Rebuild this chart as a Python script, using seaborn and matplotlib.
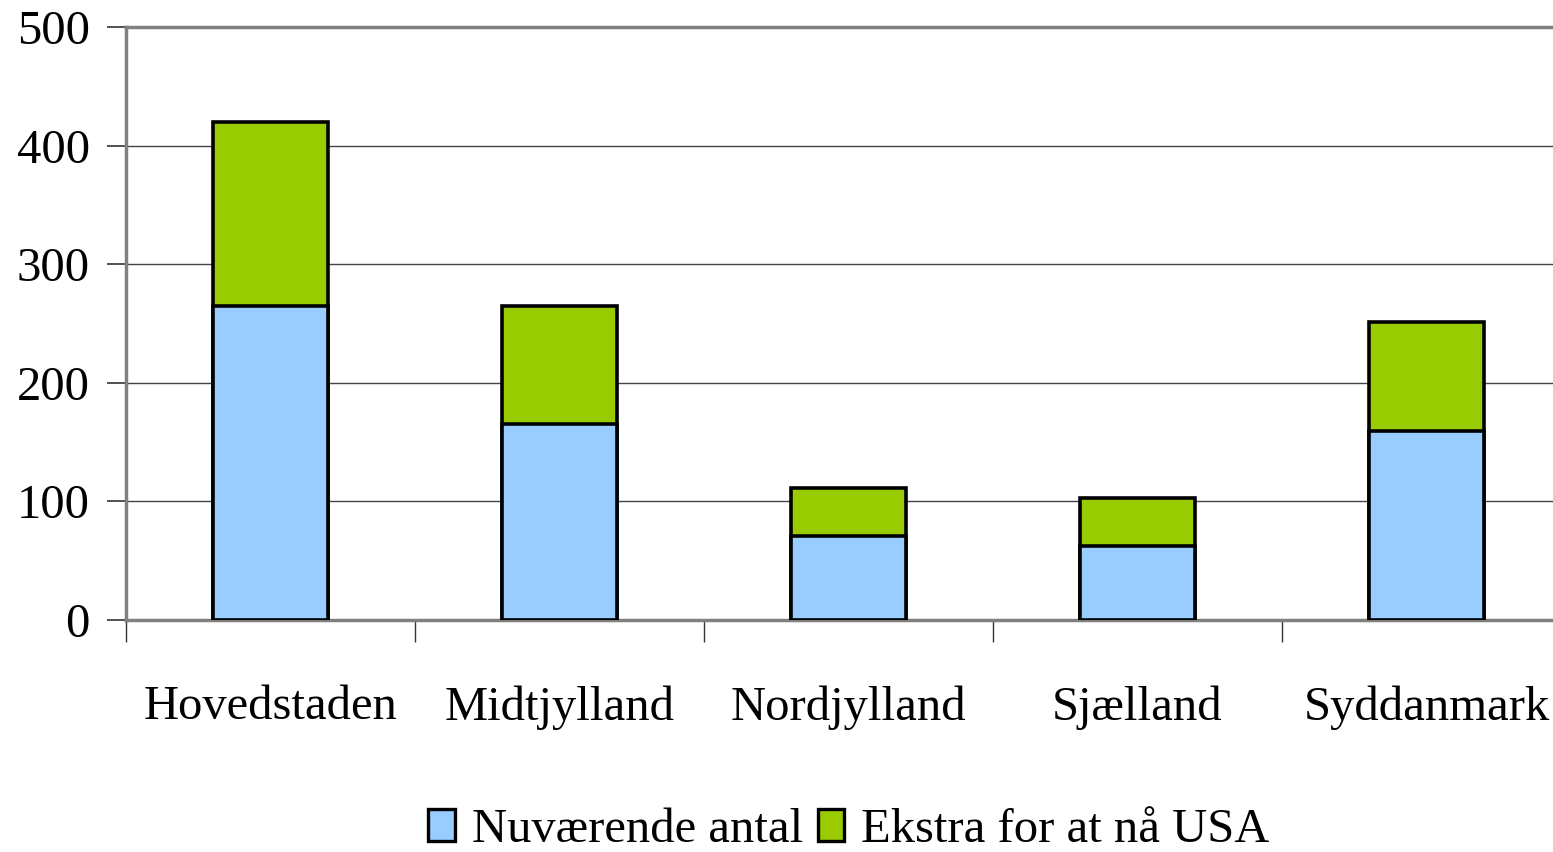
import pandas as pd
import matplotlib
matplotlib.use('Agg')
import matplotlib.pyplot as plt
import seaborn as sns
from matplotlib.patches import Patch

# values
regions = ['Hovedstaden', 'Midtjylland', 'Nordjylland', 'Sjælland', 'Syddanmark']
current = [265, 165, 71, 62, 159]
extra = [155, 100, 40, 41, 92]
yticks = [0, 100, 200, 300, 400, 500]

df = pd.DataFrame({'region': regions, 'current': current, 'extra': extra})
df['total'] = df['current'] + df['extra']

blue = '#99ccff'
green = '#99cc00'

sns.set_style('white')
plt.rcParams['font.family'] = ['Liberation Serif', 'DejaVu Serif']
plt.rcParams['text.color'] = 'black'
plt.rcParams['xtick.labelcolor'] = 'black'
plt.rcParams['ytick.labelcolor'] = 'black'

fig = plt.figure(figsize=(15.53, 8.52), dpi=100)
ax = fig.add_axes([126 / 1553, 1 - 620 / 852, 1445 / 1553, 593 / 852])

# stacked bars: total in green, current drawn on top in blue
sns.barplot(data=df, x='region', y='total', color=green, width=0.4,
            edgecolor='black', linewidth=2.6, saturation=1, ax=ax, zorder=3)
sns.barplot(data=df, x='region', y='current', color=blue, width=0.4,
            edgecolor='black', linewidth=2.6, saturation=1, ax=ax, zorder=4)

ax.set_xlim(-0.5, 4.5)
ax.set_ylim(0, 500)
ax.set_yticks(yticks)
ax.set_xlabel('')
ax.set_ylabel('')

ax.yaxis.grid(True, color='#444444', linewidth=1.0, zorder=0)
ax.xaxis.grid(False)

ax.spines['right'].set_visible(False)
for s in ['top', 'left', 'bottom']:
    ax.spines[s].set_color('#808080')
    ax.spines[s].set_linewidth(2.5)

ax.tick_params(axis='y', which='major', direction='out', length=14, width=1.2,
               color='#333333', labelsize=35, pad=12, left=True)
ax.tick_params(axis='x', which='major', length=0, labelsize=35, pad=47)
ax.set_xticks([-0.5, 0.5, 1.5, 2.5, 3.5], minor=True)
ax.tick_params(axis='x', which='minor', direction='out', length=16, width=1.0,
               color='#333333', bottom=True)

handles = [Patch(facecolor=blue, edgecolor='black', linewidth=2.4, label='Nuværende antal'),
           Patch(facecolor=green, edgecolor='black', linewidth=2.4, label='Ekstra for at nå USA')]
fig.legend(handles=handles, loc='center', bbox_to_anchor=(849 / 1553, 1 - 830 / 852),
           ncol=2, frameon=False, fontsize=35, handlelength=0.55, handleheight=0.65,
           handletextpad=0.35, columnspacing=0.3, borderaxespad=0)

fig.savefig('out.png', dpi=100)
